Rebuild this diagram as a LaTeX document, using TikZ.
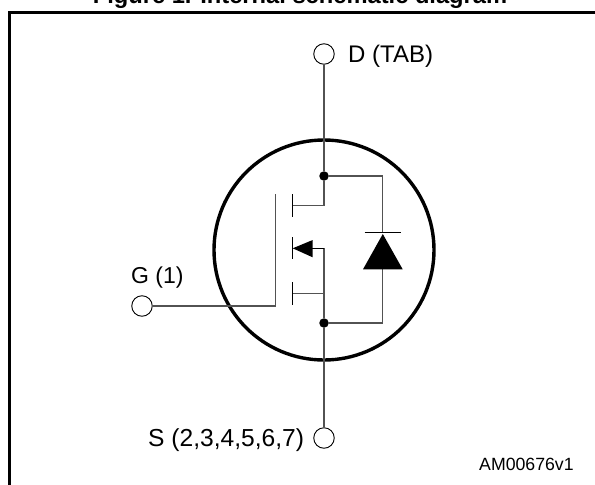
\documentclass[tikz,border=0pt]{standalone}
\usepackage{fontspec}
\setmainfont{Liberation Sans}
\tikzset{
  wire/.style={line width=1.1pt,draw=black!68},
  fet/.style={line width=1.2pt,draw=black},
  term/.style={circle,draw=black,line width=0.9pt,fill=white,minimum size=20.5pt,inner sep=0pt},
  dotn/.style={circle,fill=black,minimum size=9.5pt,inner sep=0pt},
  lbl/.style={inner sep=0pt,font=\fontsize{24}{26}\selectfont,anchor=base west},
}
\begin{document}
\begin{tikzpicture}[x=1pt,y=-1pt]
\useasboundingbox (0,0) rectangle (595,485);
\draw[line width=2.4pt] (9.5,485) -- (9.5,12.5) -- (595,12.5);
\node[inner sep=0pt,anchor=base,font=\bfseries\fontsize{23.7}{26}\selectfont] (title) at (300,3) {Figure 1. Internal schematic diagram};
\draw[line width=3.4pt] (324,250) circle[radius=110];
\node[dotn] (top) at (324,176) {};
\node[dotn] (bot) at (324,323) {};
\coordinate (dst) at (324,205.3);
\coordinate (src) at (324,248.3);
\coordinate (gc) at (275.3,305);
\coordinate (gt) at (275.3,194);
\coordinate (dd) at (292.3,205.3);
\coordinate (ss) at (292.3,293.7);
\coordinate (s3) at (324,293.7);
\coordinate (dr) at (382.7,176);
\coordinate (br) at (382.7,323);
\node[term] (D) at (324,54) {};
\node[term] (S) at (324,438) {};
\node[term] (G) at (142,306) {};
\draw[wire] (D) -- (top) -- (dst) -- (dd);
\draw[wire] (src) -- (bot) -- (S);
\draw[wire] (ss) -- (s3);
\draw[wire] (G) -- (G.center -| gc) -- (gt);
\draw[wire] (top) -- (dr) -- (382.7,232);
\draw[wire] (bot) -- (br) -- (382.7,269);
\draw[fet] (292.3,194) -- (292.3,216.7);
\draw[fet] (292.3,237.3) -- (292.3,259.3);
\draw[fet] (292.3,282.3) -- (292.3,305);
\draw[fet] (src) -- (312,248.3);
\fill (292.7,248.3) -- (312.7,240) -- (312.7,257.3) -- cycle;
\draw[line width=1.5pt] (364.7,232.3) -- (401,232.3);
\fill (382.8,234) -- (402.7,269.3) -- (363,269.3) -- cycle;
\node[lbl] (ld) at (348,62.5) {D (TAB)};
\node[lbl,font=\fontsize{23}{25}\selectfont] (lg) at (131,283.5) {G (1)};
\node[lbl,font=\fontsize{24.6}{26}\selectfont] (ls) at (148,446) {S (2,3,4,5,6,7)};
\node[inner sep=0pt,anchor=base west,font=\fontsize{17.7}{20}\selectfont] (am) at (479,470) {AM00676v1};
\end{tikzpicture}
\end{document}
